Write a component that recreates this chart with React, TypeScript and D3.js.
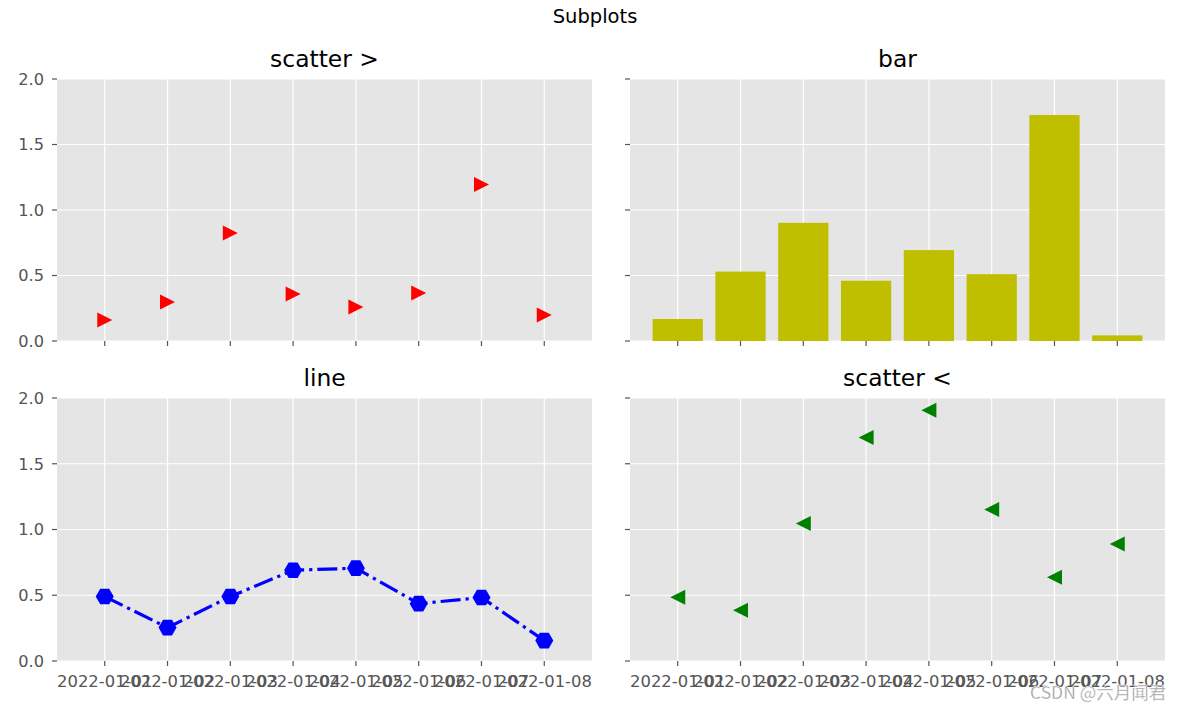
import React from "react";
import * as d3 from "d3";

const dates = ["2022-01-01", "2022-01-02", "2022-01-03", "2022-01-04", "2022-01-05", "2022-01-06", "2022-01-07", "2022-01-08"];
const scatterRightValues = [0.16, 0.298, 0.824, 0.359, 0.26, 0.366, 1.195, 0.198];
const barValues = [0.168, 0.53, 0.902, 0.46, 0.694, 0.51, 1.725, 0.043];
const lineValues = [0.49, 0.254, 0.49, 0.69, 0.706, 0.436, 0.483, 0.155];
const scatterLeftValues = [0.485, 0.386, 1.046, 1.7, 1.906, 1.153, 0.636, 0.89];
const yTicks = [0, 0.5, 1.0, 1.5, 2.0];
const titles = ["scatter >", "bar", "line", "scatter <"];

const W = 1181;
const H = 712;
const FONT = "DejaVu Sans";
const DAY = 24 * 3600 * 1000;

const parse = d3.utcParse("%Y-%m-%d");
const dateObjs = dates.map((d) => parse(d) as Date);

const cols = [
  [57, 592],
  [630, 1165],
];
const rows = [
  [79, 341],
  [398, 661],
];

function makeX(c: number) {
  const first = dateObjs[0].getTime();
  const last = dateObjs[dateObjs.length - 1].getTime();
  return d3
    .scaleUtc()
    .domain([new Date(first - 0.76 * DAY), new Date(last + 0.76 * DAY)])
    .range(cols[c]);
}
function makeY(r: number) {
  return d3.scaleLinear().domain([0, 2]).range([rows[r][1], rows[r][0]]);
}

function triPath(dir: "right" | "left", h: number) {
  if (dir === "right") return `M${h},0L${-h},${h}L${-h},${-h}Z`;
  return `M${-h},0L${h},${h}L${h},${-h}Z`;
}
function hexPath(r: number) {
  const pts = d3.range(6).map((i) => {
    const a = (i * Math.PI) / 3;
    return [r * Math.cos(a), r * Math.sin(a)];
  });
  return "M" + pts.map((p) => p.join(",")).join("L") + "Z";
}

function Panel({ r, c, showXLabels, showYLabels, title, children }: any) {
  const x = makeX(c);
  const y = makeY(r);
  const [x0, x1] = cols[c];
  const [y0, y1] = rows[r];
  return (
    <g>
      <rect x={x0} y={y0} width={x1 - x0} height={y1 - y0} fill="#E5E5E5" />
      {yTicks.map((t) => (
        <line key={"gy" + t} x1={x0} x2={x1} y1={y(t)} y2={y(t)} stroke="#ffffff" strokeWidth={1.2} />
      ))}
      {dateObjs.map((d, i) => (
        <line key={"gx" + i} x1={x(d)} x2={x(d)} y1={y0} y2={y1} stroke="#ffffff" strokeWidth={1.2} />
      ))}
      {yTicks.map((t) => (
        <line key={"ty" + t} x1={x0 - 5} x2={x0} y1={y(t)} y2={y(t)} stroke="#555555" strokeWidth={1.2} />
      ))}
      {dateObjs.map((d, i) => (
        <line key={"tx" + i} x1={x(d)} x2={x(d)} y1={y1} y2={y1 + 5} stroke="#555555" strokeWidth={1.2} />
      ))}
      {showYLabels &&
        yTicks.map((t) => (
          <text key={"ly" + t} x={x0 - 13} y={y(t)} dy="0.36em" textAnchor="end" fontFamily={FONT} fontSize={16.2} fill="#555555">
            {d3.format(".1f")(t)}
          </text>
        ))}
      {showXLabels &&
        dateObjs.map((d, i) => (
          <text key={"lx" + i} x={x(d)} y={y1 + 26} textAnchor="middle" fontFamily={FONT} fontSize={16.4} fill="#555555">
            {dates[i]}
          </text>
        ))}
      <text x={(x0 + x1) / 2} y={y0 - 12} textAnchor="middle" fontFamily={FONT} fontSize={23.4} fill="#000000">
        {title}
      </text>
      {children(x, y)}
    </g>
  );
}

export default function App() {
  const hex = hexPath(9);
  return (
    <svg width={W} height={H} style={{ position: "absolute", left: 0, top: 0, background: "#ffffff" }}>
      <rect x={0} y={0} width={W} height={H} fill="#ffffff" />
      <text x={595} y={23} textAnchor="middle" fontFamily={FONT} fontSize={19.5} fill="#000000">
        Subplots
      </text>
      <Panel r={0} c={0} showXLabels={false} showYLabels={true} title={titles[0]}>
        {(x: any, y: any) =>
          scatterRightValues.map((v, i) => (
            <path key={i} d={triPath("right", 7.5)} transform={`translate(${x(dateObjs[i])},${y(v)})`} fill="#FF0000" />
          ))
        }
      </Panel>
      <Panel r={0} c={1} showXLabels={false} showYLabels={false} title={titles[1]}>
        {(x: any, y: any) =>
          barValues.map((v, i) => {
            const t = dateObjs[i].getTime();
            const xa = x(new Date(t - 0.4 * DAY));
            const xb = x(new Date(t + 0.4 * DAY));
            return <rect key={i} x={xa} y={y(v)} width={xb - xa} height={y(0) - y(v)} fill="#BFBF00" />;
          })
        }
      </Panel>
      <Panel r={1} c={0} showXLabels={true} showYLabels={true} title={titles[2]}>
        {(x: any, y: any) => {
          const line = d3
            .line<number>()
            .x((_, i) => x(dateObjs[i]))
            .y((v) => y(v));
          return (
            <g>
              <path d={line(lineValues) || ""} fill="none" stroke="#0000FF" strokeWidth={3.2} strokeDasharray="20,5,3.2,5" />
              {lineValues.map((v, i) => (
                <path key={i} d={hex} transform={`translate(${x(dateObjs[i])},${y(v)})`} fill="#0000FF" />
              ))}
            </g>
          );
        }}
      </Panel>
      <Panel r={1} c={1} showXLabels={true} showYLabels={false} title={titles[3]}>
        {(x: any, y: any) =>
          scatterLeftValues.map((v, i) => (
            <path key={i} d={triPath("left", 7.5)} transform={`translate(${x(dateObjs[i])},${y(v)})`} fill="#008000" />
          ))
        }
      </Panel>
      <text x={1030} y={699} fontFamily="'Noto Sans CJK SC', 'Noto Sans'" fontSize={17.5} fill="#9a9a9a" stroke="#ffffff" strokeWidth={0.3}>
        CSDN @六月闻君
      </text>
    </svg>
  );
}
